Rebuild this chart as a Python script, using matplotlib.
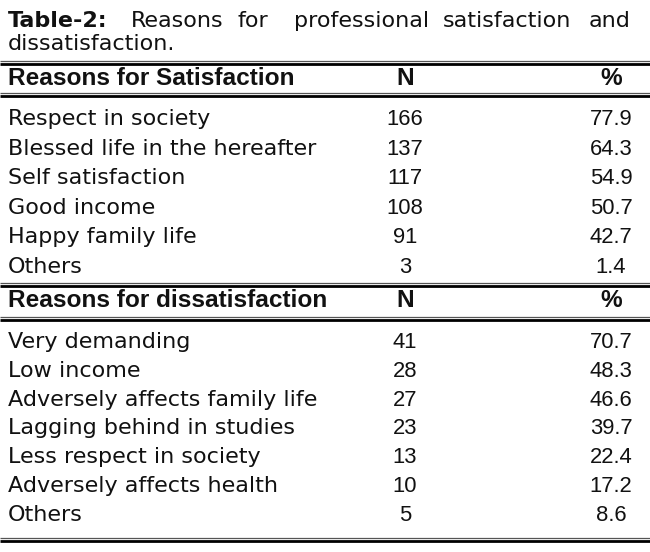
import matplotlib
matplotlib.use("Agg")
import matplotlib.pyplot as plt

# ---- data ----
title_bold = "Table-2:"
title_words = ["Reasons", "for", "professional", "satisfaction", "and"]
title_line2 = "dissatisfaction."

sat_header = "Reasons for Satisfaction"
sat_reasons = ["Respect in society", "Blessed life in the hereafter", "Self satisfaction",
               "Good income", "Happy family life", "Others"]
sat_n = [166, 137, 117, 108, 91, 3]
sat_pct = [77.9, 64.3, 54.9, 50.7, 42.7, 1.4]

dis_header = "Reasons for dissatisfaction"
dis_reasons = ["Very demanding", "Low income", "Adversely affects family life",
               "Lagging behind in studies", "Less respect in society",
               "Adversely affects health", "Others"]
dis_n = [41, 28, 27, 23, 13, 10, 5]
dis_pct = [70.7, 48.3, 46.6, 39.7, 22.4, 17.2, 8.6]

col_headers = ["N", "%"]

# ---- layout ----
W, H = 650, 552
fig = plt.figure(figsize=(W / 100, H / 100), dpi=100)
ax = fig.add_axes([0, 0, 1, 1])
ax.set_xlim(0, W)
ax.set_ylim(H, 0)
ax.axis("off")

TXT = "#111111"
row_font = dict(family="DejaVu Sans", fontsize=16.0, color=TXT)
num_font = dict(family="Liberation Sans", fontsize=15.8, color=TXT)
hdr_font = dict(family="Liberation Sans", fontsize=17.6, fontweight="bold", color=TXT)

X_LEFT = 8
X_N = 405
X_PCT = 611


def rule(y):
    ax.plot([0, W], [y - 2.2, y - 2.2], color="#555555", lw=0.9, solid_capstyle="butt")
    ax.plot([0, W], [y + 0.6, y + 0.6], color="#000000", lw=2.0, solid_capstyle="butt")


# title line 1 (justified)
texts = [ax.text(X_LEFT, 27, title_bold, family="DejaVu Sans", fontsize=16.0,
                 fontweight="bold", color=TXT, va="baseline", ha="left")]
for w in title_words:
    texts.append(ax.text(0, 27, w, family="DejaVu Sans", fontsize=16.0, color=TXT,
                         va="baseline", ha="left"))
fig.canvas.draw()
r = fig.canvas.get_renderer()
widths = [t.get_window_extent(r).width for t in texts]
gap_weights = [1.7, 1, 1.9, 1, 1.2]
right = 630
free = (right - X_LEFT) - sum(widths)
unit = free / sum(gap_weights)
x = X_LEFT + widths[0]
for t, wdt, gw in zip(texts[1:], widths[1:], gap_weights):
    x += gw * unit
    t.set_x(x)
    x += wdt

ax.text(X_LEFT, 50, title_line2, va="baseline", ha="left", **row_font)

# satisfaction block
rule(63)
ax.text(X_LEFT, 85, sat_header, va="baseline", ha="left", **hdr_font)
ax.text(X_N, 85, col_headers[0], va="baseline", ha="center", **hdr_font)
ax.text(X_PCT, 85, col_headers[1], va="baseline", ha="center", **hdr_font)
rule(95)
for i, (lab, n, p) in enumerate(zip(sat_reasons, sat_n, sat_pct)):
    y = 125 + i * 29.6
    ax.text(X_LEFT, y, lab, va="baseline", ha="left", **row_font)
    ax.text(X_N, y, str(n), va="baseline", ha="center", **num_font)
    ax.text(X_PCT, y, f"{p:.1f}", va="baseline", ha="center", **num_font)

# dissatisfaction block
rule(285)
ax.text(X_LEFT, 307, dis_header, va="baseline", ha="left", **hdr_font)
ax.text(X_N, 307, col_headers[0], va="baseline", ha="center", **hdr_font)
ax.text(X_PCT, 307, col_headers[1], va="baseline", ha="center", **hdr_font)
rule(319)
for i, (lab, n, p) in enumerate(zip(dis_reasons, dis_n, dis_pct)):
    y = 348 + i * 28.8
    ax.text(X_LEFT, y, lab, va="baseline", ha="left", **row_font)
    ax.text(X_N, y, str(n), va="baseline", ha="center", **num_font)
    ax.text(X_PCT, y, f"{p:.1f}", va="baseline", ha="center", **num_font)

rule(540)

fig.savefig("out.png", dpi=100, facecolor="white")
